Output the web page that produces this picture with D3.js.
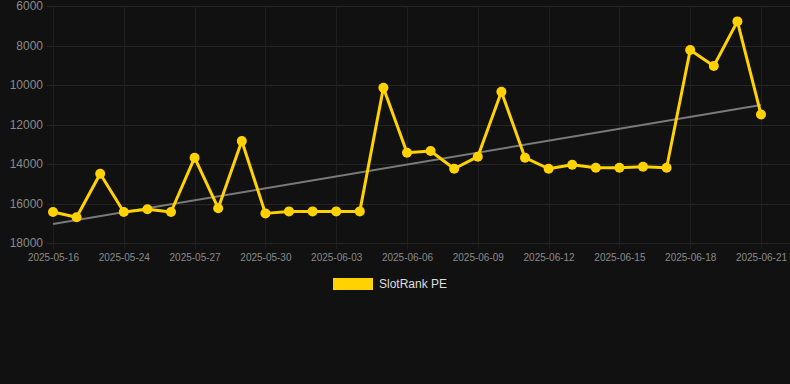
<!DOCTYPE html>
<html lang="en">
<head>
  <meta charset="UTF-8" />
  <title>SlotRank PE</title>
  <script src="https://cdn.jsdelivr.net/npm/d3@7"></script>
  <style>
    html, body {
      margin: 0;
      padding: 0;
      background-color: #111111;
      font-family: "Liberation Sans", Arial, sans-serif;
    }
    #chart {
      width: 790px;
      height: 384px;
    }
  </style>
</head>
<body>
  <div id="chart"></div>

  <script>
    // Category labels (only every third one is shown on the axis)
    const dates = [
      "2025-05-16", "2025-05-22", "2025-05-23", "2025-05-24", "2025-05-25", "2025-05-26",
      "2025-05-27", "2025-05-28", "2025-05-29", "2025-05-30", "2025-05-31", "2025-06-01",
      "2025-06-03", "2025-06-04", "2025-06-05", "2025-06-06", "2025-06-07", "2025-06-08",
      "2025-06-09", "2025-06-10", "2025-06-11", "2025-06-12", "2025-06-13", "2025-06-14",
      "2025-06-15", "2025-06-16", "2025-06-17", "2025-06-18", "2025-06-19", "2025-06-20",
      "2025-06-21"
    ];

    // SlotRank PE series
    const ranks = [
      16430, 16700, 14490, 16430, 16290, 16430, 13680, 16240, 12840, 16500, 16400,
      16400, 16400, 16400, 10140, 13430, 13340, 14240, 13630, 10340, 13680, 14240,
      14035, 14190, 14190, 14140, 14190, 8230, 9040, 6780, 11490
    ];

    // Trend line values at the first and last category
    const trendValues = [17040, 11010];

    const yTicks = [6000, 8000, 10000, 12000, 14000, 16000, 18000];
    const seriesName = "SlotRank PE";

    const width = 790, height = 384;
    const plot = { left: 53, right: 761, top: 6, bottom: 243 };
    const lineColor = "#ffd200";

    const svg = d3.select("#chart")
      .append("svg")
        .attr("width", width)
        .attr("height", height);

    // X scale: evenly spaced categories
    const x = d3.scalePoint()
      .domain(dates)
      .range([plot.left, plot.right]);

    // Y scale: inverted, rank 6000 at the top
    const y = d3.scaleLinear()
      .domain([6000, 18000])
      .range([plot.top, plot.bottom]);

    // Horizontal grid
    svg.append("g")
      .selectAll("line")
      .data(yTicks)
      .join("line")
        .attr("x1", plot.left - 6)
        .attr("x2", width)
        .attr("y1", d => Math.round(y(d)) + 0.5)
        .attr("y2", d => Math.round(y(d)) + 0.5)
        .attr("stroke", "#262626")
        .attr("stroke-width", 1);

    // Vertical grid at the shown labels
    const shownDates = dates.filter((d, i) => i % 3 === 0);
    svg.append("g")
      .selectAll("line")
      .data(shownDates)
      .join("line")
        .attr("x1", d => Math.round(x(d)) + 0.5)
        .attr("x2", d => Math.round(x(d)) + 0.5)
        .attr("y1", plot.top)
        .attr("y2", plot.bottom + 6)
        .attr("stroke", "#1f1f1f")
        .attr("stroke-width", 1);

    // Y axis labels
    const yAxis = d3.axisLeft(y).tickValues(yTicks).tickFormat(d3.format("d")).tickSize(0).tickPadding(0);
    const gy = svg.append("g")
      .attr("transform", `translate(${plot.left - 10},0)`)
      .call(yAxis);
    gy.select(".domain").remove();
    gy.selectAll("text")
      .attr("fill", "#8a8a8a")
      .attr("font-size", 12)
      .attr("font-family", "'Liberation Sans', Arial, sans-serif");

    // X axis labels
    const xAxis = d3.axisBottom(x).tickValues(shownDates).tickSize(0).tickPadding(0);
    const gx = svg.append("g")
      .attr("transform", `translate(0,${plot.bottom + 11})`)
      .call(xAxis);
    gx.select(".domain").remove();
    gx.selectAll("text")
      .attr("fill", "#8a8a8a")
      .attr("font-size", 10)
      .attr("font-family", "'Liberation Sans', Arial, sans-serif");

    // Trend line
    svg.append("path")
      .datum(trendValues)
      .attr("fill", "none")
      .attr("stroke", "#7a7a7a")
      .attr("stroke-width", 2)
      .attr("d", d3.line()
        .x((d, i) => x(dates[i === 0 ? 0 : dates.length - 1]))
        .y(d => y(d))
      );

    // Series line
    svg.append("path")
      .datum(ranks)
      .attr("fill", "none")
      .attr("stroke", lineColor)
      .attr("stroke-width", 3)
      .attr("stroke-linejoin", "round")
      .attr("d", d3.line()
        .x((d, i) => x(dates[i]))
        .y(d => y(d))
      );

    // Points
    svg.append("g")
      .selectAll("circle")
      .data(ranks)
      .join("circle")
        .attr("cx", (d, i) => x(dates[i]))
        .attr("cy", d => y(d))
        .attr("r", 5)
        .attr("fill", lineColor);

    // Legend
    const legend = svg.append("g");
    legend.append("rect")
      .attr("x", 333)
      .attr("y", 278)
      .attr("width", 40)
      .attr("height", 12)
      .attr("fill", lineColor);
    legend.append("text")
      .attr("x", 379)
      .attr("y", 284)
      .attr("dy", "0.35em")
      .attr("fill", "#dddddd")
      .attr("font-size", 12)
      .text(seriesName);
  </script>
</body>
</html>
